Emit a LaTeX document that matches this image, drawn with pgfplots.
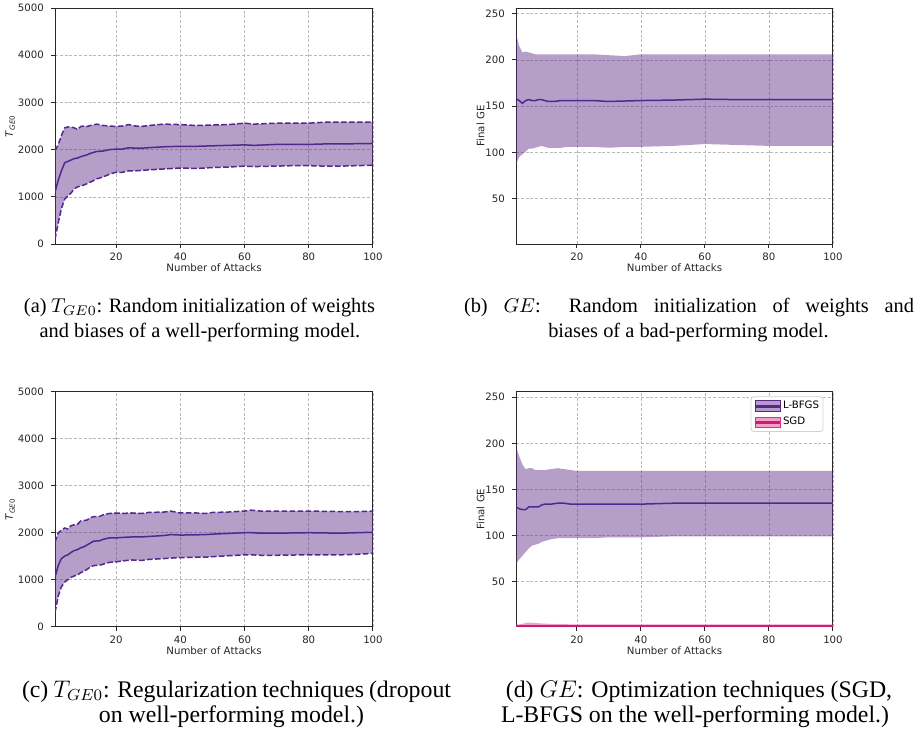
\documentclass[border=0pt]{standalone}
\usepackage{fontspec}
\usepackage{pgfplots}
\usepackage{pgfplotstable}
\pgfplotsset{compat=1.18}
\usepgfplotslibrary{fillbetween}
\setmainfont{Liberation Serif}
\newfontfamily\dejavu{DejaVu Sans}
\definecolor{pline}{RGB}{84,39,143}
\definecolor{pfill}{RGB}{91,39,133}
\definecolor{sline}{RGB}{199,32,112}
\definecolor{sfill}{RGB}{231,41,138}
\definecolor{spine}{RGB}{40,40,40}

\pgfplotstableread{
x m lo hi
1 1100 100 1980
2 1350 450 2100
3 1550 750 2300
4 1720 950 2460
5 1750 1020 2480
6 1780 1080 2480
7 1810 1170 2460
8 1820 1210 2430
9 1850 1230 2490
10 1870 1250 2500
11 1890 1280 2490
12 1920 1310 2510
14 1960 1380 2540
16 1970 1420 2510
18 2000 1480 2500
20 2010 1520 2490
22 2010 1520 2500
24 2040 1550 2530
26 2030 1550 2500
28 2030 1560 2490
30 2040 1570 2510
35 2060 1590 2540
40 2070 1610 2530
45 2070 1600 2510
50 2080 1620 2520
55 2090 1630 2530
60 2100 1650 2560
63 2090 1640 2540
70 2110 1650 2560
75 2110 1660 2560
80 2110 1660 2560
85 2120 1650 2580
90 2120 1650 2580
95 2125 1660 2580
100 2130 1670 2580
}\tabA

\pgfplotstableread{
x m lo hi
1 158 87 228
2 156 95 215
3 153 98 208
4 156 101 209
5 157 104 208
6 156 104 207
7 156 105 206
8 157 106 206
9 157 107 206
10 156 106 206
11 155 105 206
13 155 105 206
15 156 105 206
17 156 106 206
20 156 106 206
25 156 106 206
30 155 105 205
35 155.5 106 204
40 156 106 206
50 156.5 107 206
60 157.5 109 206
70 157 108 206
80 157 107 206
90 157 107 206
100 157 107 206
}\tabB

\pgfplotstableread{
x m lo hi
1 1050 300 1800
2 1300 650 2000
3 1450 850 2050
4 1500 950 2100
5 1530 1000 2080
6 1580 1050 2150
7 1620 1080 2170
8 1640 1100 2180
9 1680 1150 2250
10 1700 1180 2260
11 1740 1220 2270
12 1780 1270 2320
13 1820 1300 2340
15 1830 1310 2350
16 1860 1330 2380
18 1890 1370 2410
20 1890 1380 2420
22 1900 1400 2410
25 1910 1420 2420
28 1910 1410 2410
30 1920 1430 2430
35 1940 1450 2440
37 1960 1460 2460
40 1950 1470 2420
45 1955 1480 2420
48 1960 1480 2410
50 1970 1490 2430
55 1985 1510 2440
60 2000 1530 2460
62 2000 1530 2480
65 1990 1520 2460
70 1990 1520 2460
80 2000 1530 2460
90 1990 1530 2450
95 2000 1540 2450
100 2010 1560 2460
}\tabC

\pgfplotstableread{
x m lo hi
1 131 69 196
2 129 74 186
3 128 78 177
4 128 82 172
5 131 86 173
6 131 89 173
7 131 90 171
8 131 91 171
9 133 93 171
10 134 94 171
12 134 96 172
14 135 97 173
16 135 97 172
18 134 97 171
20 134 97 170
25 134 97 170
30 134 98 170
40 134 98 170
50 135 99 170
60 135 99 170
70 135 99 170
80 135 99 170
90 135 99 170
100 135 99 170
}\tabD

\pgfplotstableread{
x m lo hi
1 1.8 1 3.5
2 1.8 1 3.5
3 1.8 1 4
4 1.8 1 5
5 1.8 1 5.5
7 1.8 1 5
9 1.8 1 4.5
12 1.8 1 4
20 1.8 1 3.5
40 1.8 1 3.5
100 1.8 1 3.5
}\tabS

\pgfplotsset{
  myax/.style={
    scale only axis,
    anchor=south west,
    xmin=1, xmax=100,
    xtick={20,40,60,80,100},
    axis line style={spine, line width=0.5pt},
    tick style={spine, line width=0.5pt},
    tick align=outside,
    major tick length=2pt,
    xtick pos=bottom, ytick pos=left,
    grid=major,
    major grid style={gray!55, line width=0.3pt, dash pattern=on 1.5pt off 0.9pt},
    tick label style={font=\fontsize{5.1}{6}\selectfont\dejavu, text=black!85},
    xticklabel style={yshift=1pt},
    label style={font=\fontsize{5.1}{6}\selectfont\dejavu, text=black!85},
    /pgf/number format/assume math mode=true,
    /pgf/number format/1000 sep={},
    xlabel={Number of Attacks},
    xlabel style={at={(axis description cs:0.5,0)}, anchor=center, yshift=-11.9pt},
  },
  dashp/.style={pline, line width=0.75pt, dash pattern=on 2.8pt off 1.2pt},
  meanp/.style={pline, line width=0.75pt},
}

\begin{document}
\begin{tikzpicture}

% (a)
\begin{axis}[myax, at={(27.5pt,246pt)}, width=159pt, height=118pt,
  ymin=0, ymax=5000, ytick={0,1000,2000,3000,4000,5000},
  ylabel={\textit{T}\textsubscript{\textit{GE}0}},
  ylabel style={at={(axis description cs:-0.141,0.5)}, anchor=center}]
\addplot[dashp, name path=ahi] table[x=x,y=hi]{\tabA};
\addplot[dashp, name path=alo] table[x=x,y=lo]{\tabA};
\addplot[fill=pfill, fill opacity=0.45, draw=none] fill between[of=ahi and alo];
\addplot[meanp] table[x=x,y=m]{\tabA};
\end{axis}

% (b)
\begin{axis}[myax, at={(258pt,246pt)}, width=158.5pt, height=118pt,
  ymin=1, ymax=256, ytick={50,100,150,200,250},
  ylabel={Final GE},
  ylabel style={at={(axis description cs:-0.112,0.5)}, anchor=center}]
\addplot[draw=none, name path=bhi] table[x=x,y=hi]{\tabB};
\addplot[draw=none, name path=blo] table[x=x,y=lo]{\tabB};
\addplot[fill=pfill, fill opacity=0.45, draw=none] fill between[of=bhi and blo];
\addplot[meanp] table[x=x,y=m]{\tabB};
\end{axis}

% (c)
\begin{axis}[myax, at={(27.5pt,54.65pt)}, width=159pt, height=117.5pt,
  ymin=0, ymax=5000, ytick={0,1000,2000,3000,4000,5000},
  ylabel={\textit{T}\textsubscript{\textit{GE}0}},
  ylabel style={at={(axis description cs:-0.141,0.5)}, anchor=center}]
\addplot[dashp, name path=chi] table[x=x,y=hi]{\tabC};
\addplot[dashp, name path=clo] table[x=x,y=lo]{\tabC};
\addplot[fill=pfill, fill opacity=0.45, draw=none] fill between[of=chi and clo];
\addplot[meanp] table[x=x,y=m]{\tabC};
\end{axis}

% (d)
\begin{axis}[myax, at={(258pt,54.65pt)}, width=158.5pt, height=117.5pt,
  ymin=1, ymax=256, ytick={50,100,150,200,250},
  ylabel={Final GE},
  ylabel style={at={(axis description cs:-0.112,0.5)}, anchor=center},
  legend style={at={(0.97,0.98)}, anchor=north east, draw=gray!35, rounded corners=1.5pt,
    font=\fontsize{5.1}{6}\selectfont\dejavu, row sep=1.2pt, inner xsep=1.2pt, inner ysep=1.2pt,
    nodes={inner sep=0.8pt}},
  legend cell align=left]
\addplot[draw=none, name path=dhi, forget plot] table[x=x,y=hi]{\tabD};
\addplot[draw=none, name path=dlo, forget plot] table[x=x,y=lo]{\tabD};
\addplot[fill=pfill, fill opacity=0.45, draw=none, forget plot] fill between[of=dhi and dlo];
\addplot[meanp, forget plot] table[x=x,y=m]{\tabD};
\addplot[draw=none, name path=shi, forget plot] table[x=x,y=hi]{\tabS};
\addplot[draw=none, name path=slo, forget plot] table[x=x,y=lo]{\tabS};
\addplot[fill=sfill, fill opacity=0.45, draw=none, forget plot] fill between[of=shi and slo];
\addplot[sline, line width=0.9pt, forget plot] table[x=x,y=m]{\tabS};
\addlegendimage{legend image code/.code={
  \fill[sharp corners, pfill, fill opacity=0.45] (0pt,-2.6pt) rectangle (12.5pt,2.6pt);
  \draw[sharp corners, pline, line width=1.5pt] (0pt,0pt) -- (12.5pt,0pt);}}
\addlegendentry{L-BFGS}
\addlegendimage{legend image code/.code={
  \fill[sharp corners, sfill, fill opacity=0.45] (0pt,-2.6pt) rectangle (12.5pt,2.6pt);
  \draw[sharp corners, sline, line width=1.5pt] (0pt,0pt) -- (12.5pt,0pt);}}
\addlegendentry{SGD}
\end{axis}

% captions
\begin{scope}[every node/.style={anchor=base, inner sep=0pt}]
\node[font=\fontsize{10.2}{12}\selectfont] at (99.75pt,212pt) {\makebox[175.5pt][s]{(a) $T_{GE0}$: Random initialization of weights}};
\node[font=\fontsize{10.2}{12}\selectfont] at (100pt,199.5pt) {and biases of a well-performing model.};
\node[font=\fontsize{10.2}{12}\selectfont] at (344.5pt,212pt) {\makebox[225pt][s]{(b) $GE$: Random initialization of weights and}};
\node[font=\fontsize{10.2}{12}\selectfont] at (344.25pt,199.5pt) {biases of a bad-performing model.};
\node[font=\fontsize{11.9}{12}\selectfont] at (118.25pt,19.5pt) {\makebox[214.5pt][s]{(c) $T_{GE0}$: Regularization techniques (dropout}};
\node[font=\fontsize{11.9}{12}\selectfont] at (115.75pt,7pt) {on well-performing model.)};
\node[font=\fontsize{11.9}{12}\selectfont] at (349.5pt,19.5pt) {(d) $GE$: Optimization techniques (SGD,};
\node[font=\fontsize{11.9}{12}\selectfont] at (347.5pt,7pt) {L-BFGS on the well-performing model.)};
\end{scope}
\pgfresetboundingbox
\path (0,0) rectangle (458.5pt,368pt);
\end{tikzpicture}
\end{document}
